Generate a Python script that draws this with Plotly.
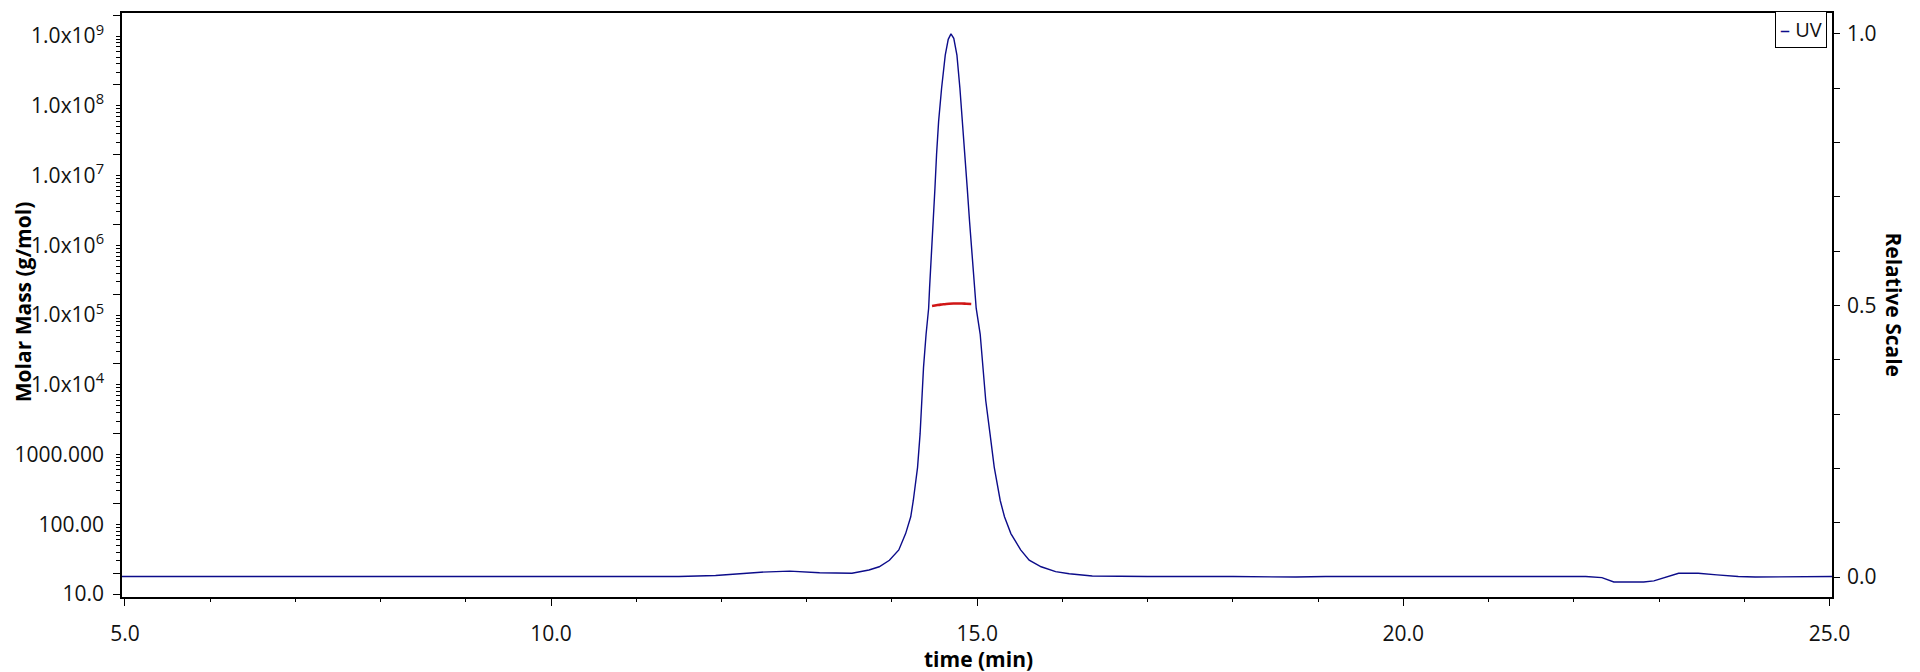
import plotly.graph_objects as go

# UV trace (relative scale)
uv_time = [4.965, 5.30, 6.0, 8.0, 10.0, 11.13, 11.5, 11.93, 12.2, 12.46, 12.8, 13.15, 13.53, 13.73, 13.85,
           13.97, 14.08, 14.16, 14.22, 14.25, 14.30, 14.33, 14.35, 14.37, 14.40, 14.43, 14.441, 14.464,
           14.484, 14.504, 14.523, 14.547, 14.582, 14.625, 14.66, 14.692, 14.725, 14.762, 14.797, 14.828,
           14.856, 14.883, 14.910, 14.938, 14.969, 14.988, 15.035, 15.07, 15.10, 15.15, 15.20, 15.27,
           15.32, 15.395, 15.51, 15.61, 15.75, 15.92, 16.08, 16.35, 17.0, 18.0, 18.74, 19.09, 19.31,
           20.0, 21.12, 21.5, 22.14, 22.33, 22.47, 22.82, 22.94, 23.23, 23.46, 23.68, 23.93, 24.13,
           24.64, 25.03]
uv_rel = [0.001, 0.001, 0.0, 0.0, 0.0, 0.0, 0.001, 0.003, 0.006, 0.009, 0.011, 0.008, 0.007, 0.013, 0.019,
          0.031, 0.050, 0.080, 0.111, 0.141, 0.202, 0.264, 0.325, 0.386, 0.447, 0.495, 0.532, 0.594,
          0.655, 0.716, 0.778, 0.839, 0.900, 0.961, 0.990, 1.000, 0.992, 0.961, 0.900, 0.839,
          0.778, 0.716, 0.655, 0.594, 0.532, 0.495, 0.447, 0.386, 0.325, 0.264, 0.202, 0.141,
          0.111, 0.080, 0.050, 0.031, 0.019, 0.010, 0.006, 0.002, 0.001, 0.001, 0.0, 0.001, 0.001,
          0.001, 0.0, 0.001, 0.001, -0.001, -0.009, -0.009, -0.007, 0.007, 0.007, 0.004, 0.001, 0.0,
          0.0, 0.001]

# molar mass across the peak (g/mol)
mm_time = [14.47, 14.52, 14.57, 14.62, 14.67, 14.72, 14.77, 14.82, 14.87, 14.93]
mm_value = [1.35e5, 1.38e5, 1.41e5, 1.43e5, 1.45e5, 1.46e5, 1.46e5, 1.46e5, 1.45e5, 1.44e5]

# tick labels
mass_ticks = [10, 100, 1000, 1e4, 1e5, 1e6, 1e7, 1e8, 1e9]
mass_text = ["10.0", "100.00", "1000.000"] + ["1.0x10<sup>%d</sup>" % n for n in range(4, 10)]
rel_ticks = [0.0, 0.5, 1.0]
rel_text = ["0.0", "0.5", "1.0"]

uvcol = "#0c0c8a"
mmcol = "#d01616"
fnt = "Open Sans"

fig = go.Figure()
fig.add_trace(go.Scatter(x=uv_time, y=uv_rel, mode="lines", name="UV", yaxis="y2",
                         line=dict(color=uvcol, width=1.4), showlegend=False))
fig.add_trace(go.Scatter(x=mm_time, y=mm_value, mode="lines", name="Molar Mass",
                         line=dict(color=mmcol, width=2.6, shape="spline"), showlegend=False))
# copy on the overlay axis that only carries the long ticks
fig.add_trace(go.Scatter(x=mm_time, y=mm_value, mode="lines", yaxis="y3", opacity=0,
                         hoverinfo="skip", showlegend=False))

minor_mass = [k * 10 ** n for n in range(1, 9) for k in range(2, 10)]
long_mass = [10] + [2 * 10 ** n for n in range(1, 10)]
yr = [0.957, 9.33]

# page body has an 8px margin, so the figure is 8px smaller and shifted
fig.update_layout(
    width=1912, height=664, autosize=False,
    margin=dict(l=114, r=88, t=3, b=75),
    plot_bgcolor="white", paper_bgcolor="white",
    font=dict(family=fnt, size=21, color="#111111"),
    xaxis=dict(range=[4.965, 25.03], tickmode="linear", tick0=5, dtick=5, tickformat=".1f",
               ticks="outside", ticklen=7, tickcolor="black", showline=True, linecolor="black",
               linewidth=1.5, mirror=True, showgrid=False, zeroline=False, ticklabelstandoff=10,
               minor=dict(dtick=1, ticks="outside", ticklen=3, tickcolor="black")),
    yaxis=dict(type="log", range=yr, tickmode="array", tickvals=mass_ticks, ticktext=mass_text,
               ticks="outside", ticklen=4, tickcolor="black", showline=True, linecolor="black",
               linewidth=1.5, showgrid=False, zeroline=False, ticklabelstandoff=8,
               minor=dict(tickmode="array", tickvals=minor_mass, ticks="outside", ticklen=4,
                          tickcolor="black")),
    yaxis3=dict(type="log", range=yr, overlaying="y", side="left", anchor="x", tickmode="array",
                tickvals=long_mass, ticks="outside", ticklen=8, tickcolor="black",
                showticklabels=False, showline=False, showgrid=False, zeroline=False),
    yaxis2=dict(range=[-0.0367, 1.0385], overlaying="y", side="right", anchor="x",
                tickmode="array", tickvals=rel_ticks, ticktext=rel_text, ticks="outside",
                ticklen=6, tickcolor="black", showline=True, linecolor="black", linewidth=1.5,
                showgrid=False, zeroline=False, ticklabelstandoff=3,
                minor=dict(dtick=0.1, tick0=0, ticks="outside", ticklen=6, tickcolor="black")),
)

fig.add_annotation(text="<b>time (min)</b>", xref="paper", yref="paper", x=0.5006, y=-0.107,
                   xanchor="center", yanchor="middle", showarrow=False,
                   font=dict(family=fnt, size=21, color="black"))
fig.add_annotation(text="<b>Molar Mass (g/mol)</b>", xref="paper", yref="paper", x=-0.0578, y=0.505,
                   textangle=-90, xanchor="center", yanchor="middle", showarrow=False,
                   font=dict(family=fnt, size=21, color="black"))
fig.add_annotation(text="<b>Relative Scale</b>", xref="paper", yref="paper", x=1.036, y=0.50,
                   textangle=90, xanchor="center", yanchor="middle", showarrow=False,
                   font=dict(family=fnt, size=21, color="black"))
# legend box
fig.add_annotation(text="<span style='color:%s'>–</span> UV" % uvcol, xref="paper", yref="paper",
                   x=0.997, y=1.003, xanchor="right", yanchor="top", showarrow=False,
                   bordercolor="black", borderwidth=1, borderpad=4, bgcolor="white",
                   font=dict(family=fnt, size=20, color="#111111"))

fig.write_html("out.html")
